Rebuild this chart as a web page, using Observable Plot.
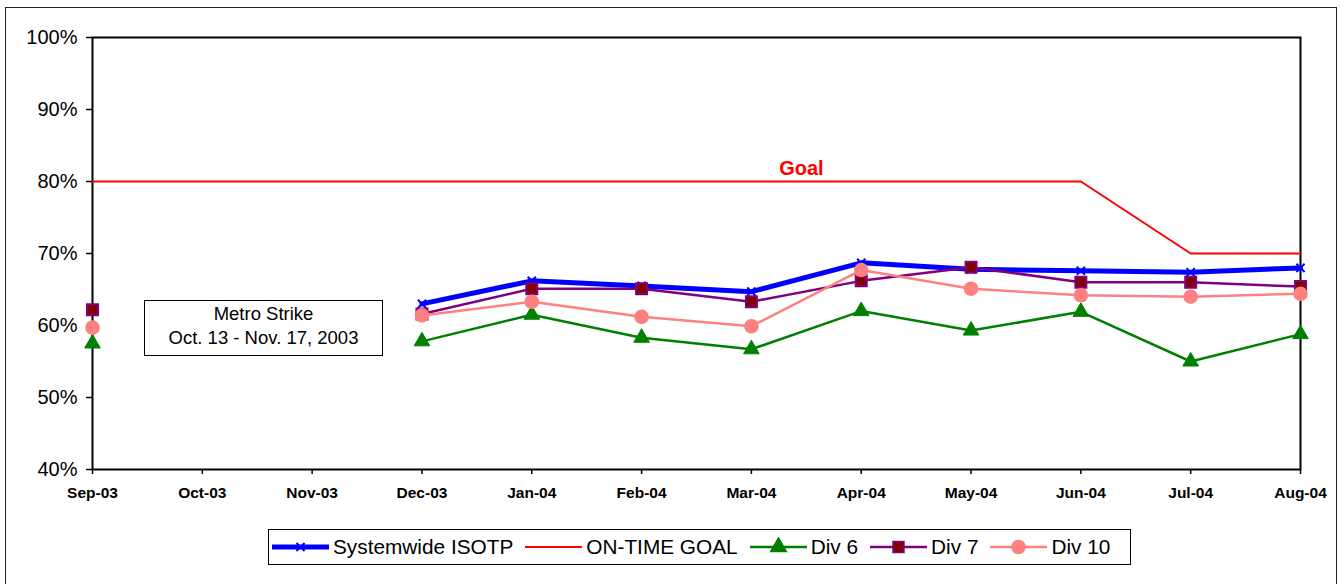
<!DOCTYPE html>
<html>
<head>
<meta charset="utf-8">
<script src="https://cdn.jsdelivr.net/npm/d3@7"></script>
<script src="https://cdn.jsdelivr.net/npm/@observablehq/plot@0.6"></script>
<style>
  html, body { margin: 0; padding: 0; background: #fff; }
  #wrap { position: relative; width: 1340px; height: 584px; overflow: hidden; font-family: "Liberation Sans", Arial, sans-serif; }
  #chart { position: absolute; left: 0; top: 0; }
  #outer { position: absolute; left: 5px; top: 7px; width: 1330px; height: 620px; border: 1px solid #222; pointer-events: none; }
  #note { position: absolute; left: 144px; top: 300px; width: 237px; height: 53px; border: 1.5px solid #000; background: #fff;
          font-size: 18.5px; line-height: 24px; text-align: center; padding-top: 1px; box-sizing: content-box; color: #000; }
  #legend { position: absolute; left: 268px; top: 529px; width: 858px; height: 34px; border: 1px solid #000; background: #fff;
            display: flex; align-items: center; padding-left: 3px; box-sizing: content-box; font-size: 20.8px; color: #000;
            white-space: nowrap; overflow: hidden; }
  .item { display: flex; align-items: center; margin-right: 12px; flex-shrink: 0; white-space: nowrap; }
  .item svg { margin-right: 4px; flex-shrink: 0; }
</style>
</head>
<body>
<div id="wrap">
  <div id="chart"></div>
  <div id="note"></div>
  <div id="legend"></div>
  <div id="outer"></div>
</div>
<script>
// ---- data ----
const months = ["Sep-03","Oct-03","Nov-03","Dec-03","Jan-04","Feb-04","Mar-04","Apr-04","May-04","Jun-04","Jul-04","Aug-04"];
const systemwide = [null, null, null, 63.0, 66.2, 65.5, 64.7, 68.7, 67.8, 67.6, 67.4, 68.0];
const onTimeGoal = [80, 80, 80, 80, 80, 80, 80, 80, 80, 80, 70, 70];
const div6 = [57.5, null, null, 57.8, 61.5, 58.3, 56.7, 62.0, 59.3, 61.9, 55.0, 58.8];
const div7 = [62.2, null, null, 61.6, 65.1, 65.1, 63.3, 66.2, 68.1, 66.0, 66.0, 65.4];
const div10 = [59.7, null, null, 61.4, 63.3, 61.2, 59.9, 67.7, 65.1, 64.2, 64.0, 64.4];
const yTicks = [40, 50, 60, 70, 80, 90, 100];
const seriesNames = ["Systemwide ISOTP", "ON-TIME GOAL", "Div 6", "Div 7", "Div 10"];
const goalLabel = "Goal";
const noteLines = ["Metro Strike", "Oct. 13 - Nov. 17, 2003"];

const rows = arr => months.map((m, i) => ({month: m, value: arr[i]}));
const present = arr => rows(arr).filter(d => d.value != null);

const chart = Plot.plot({
  width: 1340,
  height: 510,
  marginLeft: 92,
  marginRight: 40,
  marginTop: 37,
  marginBottom: 41,
  style: {fontFamily: "'Liberation Sans', Arial, sans-serif", background: "transparent", color: "#000"},
  x: {type: "point", domain: months, padding: 0, round: false},
  y: {domain: [40, 100]},
  marks: [
    Plot.axisY({ticks: yTicks, tickFormat: d => d + "%", tickSize: 6, tickPadding: 9, fontSize: 20, label: null, stroke: "#000", strokeWidth: 1.5}),
    Plot.axisX({tickSize: 5, tickPadding: 12, fontSize: 15.5, fontWeight: "bold", label: null, stroke: "#000", strokeWidth: 1.5}),
    Plot.frame({stroke: "#000", strokeWidth: 2}),
    // Systemwide
    Plot.line(rows(systemwide), {x: "month", y: "value", stroke: "#0000FF", strokeWidth: 5}),
    Plot.dot(present(systemwide), {x: "month", y: "value", symbol: "times", r: 3.8, stroke: "#0000FF", strokeWidth: 2}),
    // Goal
    Plot.line(rows(onTimeGoal), {x: "month", y: "value", stroke: "#FF0000", strokeWidth: 2}),
    Plot.text([{month: "Mar-04", value: onTimeGoal[6], t: goalLabel}], {x: "month", y: "value", text: "t", dx: 50, dy: -13, fill: "#FF0000", fontSize: 20, fontWeight: "bold"}),
    // Div 6
    Plot.line(rows(div6), {x: "month", y: "value", stroke: "#008000", strokeWidth: 2.5}),
    Plot.dot(present(div6), {x: "month", y: "value", symbol: "triangle", r: 5.8, fill: "#008000", stroke: "#008000", strokeWidth: 1}),
    // Div 7
    Plot.line(rows(div7), {x: "month", y: "value", stroke: "#800080", strokeWidth: 2.5}),
    Plot.dot(present(div7), {x: "month", y: "value", symbol: "square", r: 6.2, fill: "#800000", stroke: "#800080", strokeWidth: 2}),
    // Div 10
    Plot.line(rows(div10), {x: "month", y: "value", stroke: "#FF8080", strokeWidth: 2.5}),
    Plot.dot(present(div10), {x: "month", y: "value", symbol: "circle", r: 7.3, fill: "#FF8080"})
  ]
});
document.getElementById("chart").append(chart);

// annotation box
const note = document.getElementById("note");
noteLines.forEach(t => { const d = document.createElement("div"); d.textContent = t; note.append(d); });

// legend
const legendStyles = [
  {stroke: "#0000FF", width: 5, marker: "times", fill: "none", mstroke: "#0000FF"},
  {stroke: "#FF0000", width: 2, marker: null},
  {stroke: "#008000", width: 2.5, marker: "triangle", fill: "#008000", mstroke: "#008000"},
  {stroke: "#800080", width: 2.5, marker: "square", fill: "#800000", mstroke: "#800080"},
  {stroke: "#FF8080", width: 2.5, marker: "circle", fill: "#FF8080", mstroke: "none"}
];
const symbolMap = {times: d3.symbolTimes, triangle: d3.symbolTriangle, square: d3.symbolSquare, circle: d3.symbolCircle};
const symbolSize = {times: 45, triangle: 106, square: 120, circle: 167};
const legend = d3.select("#legend");
seriesNames.forEach((name, i) => {
  const s = legendStyles[i];
  const item = legend.append("div").attr("class", "item");
  const svg = item.append("svg").attr("width", 57).attr("height", 20);
  svg.append("line").attr("x1", 0).attr("x2", 57).attr("y1", 10).attr("y2", 10)
     .attr("stroke", s.stroke).attr("stroke-width", s.width);
  if (s.marker) {
    svg.append("path").attr("transform", "translate(28.5,10)")
       .attr("d", d3.symbol(symbolMap[s.marker], symbolSize[s.marker])())
       .attr("fill", s.fill).attr("stroke", s.mstroke).attr("stroke-width", s.marker === "times" ? 2 : 1.5);
  }
  item.append("span").text(name);
});
</script>
</body>
</html>
